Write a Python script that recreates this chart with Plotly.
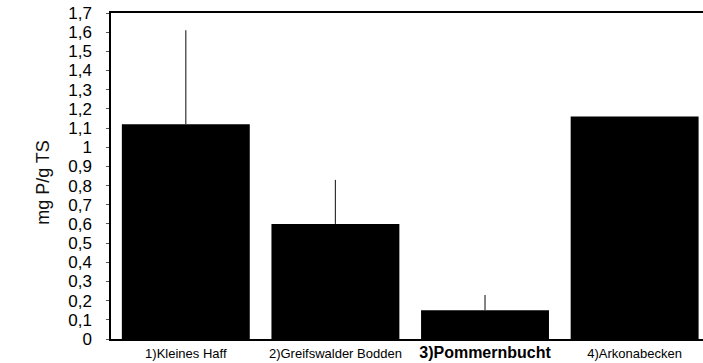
import plotly.graph_objects as go

# Phosphorus content per station (mg P per g dry matter)
categories = ["1)Kleines Haff", "2)Greifswalder Bodden", "3)Pommernbucht", "4)Arkonabecken"]
tick_labels = [
    "1)Kleines Haff",
    "2)Greifswalder Bodden",
    "<b><span style='font-size:16px'>3)Pommernbucht</span></b>",
    "4)Arkonabecken",
]
values = [1.12, 0.60, 0.15, 1.16]
errors_up = [0.49, 0.23, 0.08, 0.0]
y_ticks = [i / 10 for i in range(0, 18)]
y_title = "mg P/g TS"

fig = go.Figure(
    go.Bar(
        x=list(range(len(categories))),
        y=values,
        width=0.855,
        marker=dict(color="black", line=dict(width=0)),
        error_y=dict(
            type="data",
            symmetric=False,
            array=errors_up,
            arrayminus=[0] * len(values),
            color="#333333",
            thickness=1.2,
            width=0,
        ),
    )
)

fig.update_layout(
    width=703,
    height=363,
    margin=dict(l=111, r=0, t=13, b=24),
    paper_bgcolor="white",
    plot_bgcolor="white",
    separators=",.",
    showlegend=False,
    font=dict(family="Liberation Sans, Arial, sans-serif", color="black"),
)

fig.update_xaxes(
    range=[-0.5, 3.457],
    tickmode="array",
    tickvals=list(range(len(categories))),
    ticktext=tick_labels,
    tickfont=dict(size=13),
    ticklabelstandoff=2,
    showline=True,
    linecolor="black",
    linewidth=1.5,
    mirror=True,
    ticks="",
    showgrid=False,
    zeroline=False,
)

fig.update_yaxes(
    range=[0, 1.7],
    tickmode="array",
    tickvals=y_ticks,
    ticktext=[f"{v:g}".replace(".", ",") for v in y_ticks],
    tickfont=dict(size=17),
    ticks="outside",
    ticklen=3,
    tickcolor="#555555",
    ticklabelstandoff=11,
    showline=True,
    linecolor="black",
    linewidth=1.5,
    showgrid=False,
    zeroline=False,
)

# Rotated y-axis caption placed left of the tick labels
fig.add_annotation(
    text=y_title,
    textangle=-90,
    xref="paper",
    yref="paper",
    x=0,
    y=0.479,
    xanchor="center",
    yanchor="middle",
    xshift=-68,
    showarrow=False,
    font=dict(size=18, color="#111111"),
)

fig.write_html("out.html")
